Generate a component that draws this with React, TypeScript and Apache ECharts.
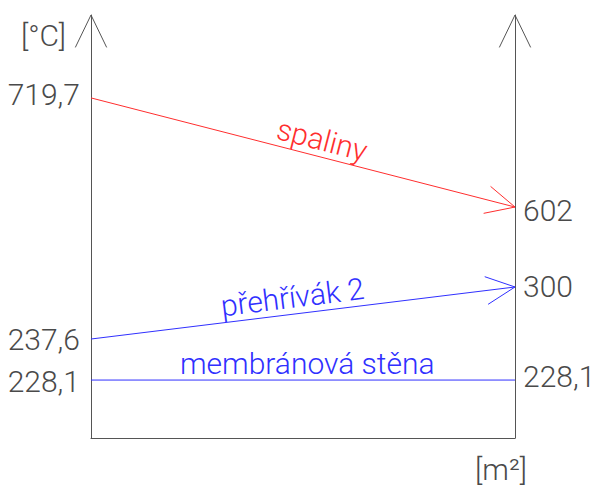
import React, { useEffect, useRef } from "react";
import * as echarts from "echarts";

// Temperature profile along the heating surface (diagram not to scale).
const lineNames = ["spaliny", "přehřívák 2", "membránová stěna"];
const tempIn = [719.7, 237.6, 228.1]; // °C at surface start
const tempOut = [602, 300, 228.1]; // °C at surface end
// Schematic heights of each temperature on the 0–100 diagram scale
const levelIn = [80.4, 23.4, 13.7];
const levelOut = [54.6, 35.7, 13.7];
const areaRange = [0, 1]; // heating surface, normalized

const unitY = "[°C]";
const unitX = "[m²]";

const COLORS = ["#ff2e2e", "#3030ff", "#3030ff"];
const ARROW = [true, true, false];
const FONT_FAMILY = "Roboto, 'DejaVu Sans', sans-serif";
const GREY = "#4a4a4a";

const fmt = (v: number) => String(v).replace(".", ",");

function arrowHead(tip: number[], from: number[], len: number, half: number) {
  const ang = Math.atan2(from[1] - tip[1], from[0] - tip[0]);
  const a1 = ang + half;
  const a2 = ang - half;
  return [
    [tip[0] + len * Math.cos(a1), tip[1] + len * Math.sin(a1)],
    [tip[0], tip[1]],
    [tip[0] + len * Math.cos(a2), tip[1] + len * Math.sin(a2)],
  ];
}

export default function App() {
  const ref = useRef<HTMLDivElement>(null);

  useEffect(() => {
    if (!ref.current) return;
    const chart = echarts.init(ref.current, null, { renderer: "svg" });

    const lineData = lineNames.map((_, i) => [
      areaRange[0],
      levelIn[i],
      areaRange[1],
      levelOut[i],
    ]);

    const textBase = {
      fill: GREY,
      fontFamily: FONT_FAMILY,
      fontWeight: 300,
      fontSize: 30,
    };

    const option: any = {
      animation: false,
      backgroundColor: "#ffffff",
      grid: { left: 91, right: 81, top: 15, bottom: 51 },
      xAxis: {
        type: "value",
        min: areaRange[0],
        max: areaRange[1],
        axisLine: { show: true, onZero: false, lineStyle: { color: "#555", width: 1 } },
        axisTick: { show: false },
        axisLabel: { show: false },
        splitLine: { show: false },
        name: unitX,
        nameLocation: "end",
        nameGap: -14,
        nameTextStyle: {
          color: GREY,
          fontFamily: FONT_FAMILY,
          fontWeight: 300,
          fontSize: 30,
          align: "center",
          verticalAlign: "top",
          padding: [16, 0, 0, 0],
        },
      },
      yAxis: [
        {
          type: "value",
          min: 0,
          max: 100,
          position: "left",
          axisLine: { show: true, lineStyle: { color: "#555", width: 1 } },
          axisTick: { show: false },
          axisLabel: { show: false },
          splitLine: { show: false },
          name: unitY,
          nameLocation: "end",
          nameGap: -20,
          nameTextStyle: {
            color: GREY,
            fontFamily: FONT_FAMILY,
            fontWeight: 300,
            fontSize: 30,
            align: "right",
            verticalAlign: "middle",
            padding: [0, 25, 0, 0],
          },
        },
        {
          type: "value",
          min: 0,
          max: 100,
          position: "right",
          axisLine: { show: true, lineStyle: { color: "#555", width: 1 } },
          axisTick: { show: false },
          axisLabel: { show: false },
          splitLine: { show: false },
        },
      ],
      series: [
        {
          // open arrowheads on top of both vertical axes
          type: "custom",
          silent: true,
          data: [
            [areaRange[0], 100],
            [areaRange[1], 100],
          ],
          renderItem: (params: any, api: any) => {
            const tip = api.coord([api.value(0), api.value(1)]);
            const pts = arrowHead(tip, [tip[0], tip[1] + 100], 36, 0.45);
            return {
              type: "polyline",
              shape: { points: pts },
              style: { stroke: "#555", lineWidth: 1, fill: null },
            };
          },
        },
        {
          // temperature lines with end values and names
          type: "custom",
          silent: true,
          encode: { x: [0, 2], y: [1, 3] },
          data: lineData,
          renderItem: (params: any, api: any) => {
            const i = params.dataIndex;
            const p0 = api.coord([api.value(0), api.value(1)]);
            const p1 = api.coord([api.value(2), api.value(3)]);
            const color = COLORS[i];
            const dx = p1[0] - p0[0];
            const dy = p1[1] - p0[1];
            const len = Math.hypot(dx, dy);
            const ang = Math.atan2(dy, dx);
            // unit normal pointing upwards
            const nx = dy / len;
            const ny = -dx / len;
            const t = [0.535, 0.48, 0.51][i];
            const off = 17;
            const cx = p0[0] + dx * t + nx * off;
            const cy = p0[1] + dy * t + ny * off;
            const children: any[] = [
              {
                type: "line",
                shape: { x1: p0[0], y1: p0[1], x2: p1[0], y2: p1[1] },
                style: { stroke: color, lineWidth: 1 },
              },
              {
                type: "text",
                x: p0[0] - 11,
                y: p0[1] + [-3, 0, 1][i],
                style: {
                  ...textBase,
                  text: fmt(tempIn[i]),
                  align: "right",
                  verticalAlign: "middle",
                },
              },
              {
                type: "text",
                x: p1[0] + 8,
                y: p1[1] + [3, 0, -4][i],
                style: {
                  ...textBase,
                  text: fmt(tempOut[i]),
                  align: "left",
                  verticalAlign: "middle",
                },
              },
              {
                type: "text",
                x: cx,
                y: cy,
                rotation: -ang,
                style: {
                  ...textBase,
                  text: lineNames[i],
                  fill: color,
                  align: "center",
                  verticalAlign: "middle",
                },
              },
            ];
            if (ARROW[i]) {
              children.push({
                type: "polyline",
                shape: { points: arrowHead(p1, p0, 32, 0.45) },
                style: { stroke: color, lineWidth: 1, fill: null },
              });
            }
            return { type: "group", children };
          },
        },
      ],
    };

    chart.setOption(option);
    return () => chart.dispose();
  }, []);

  return (
    <div
      ref={ref}
      style={{ position: "absolute", left: 0, top: 0, width: 596, height: 489 }}
    />
  );
}
